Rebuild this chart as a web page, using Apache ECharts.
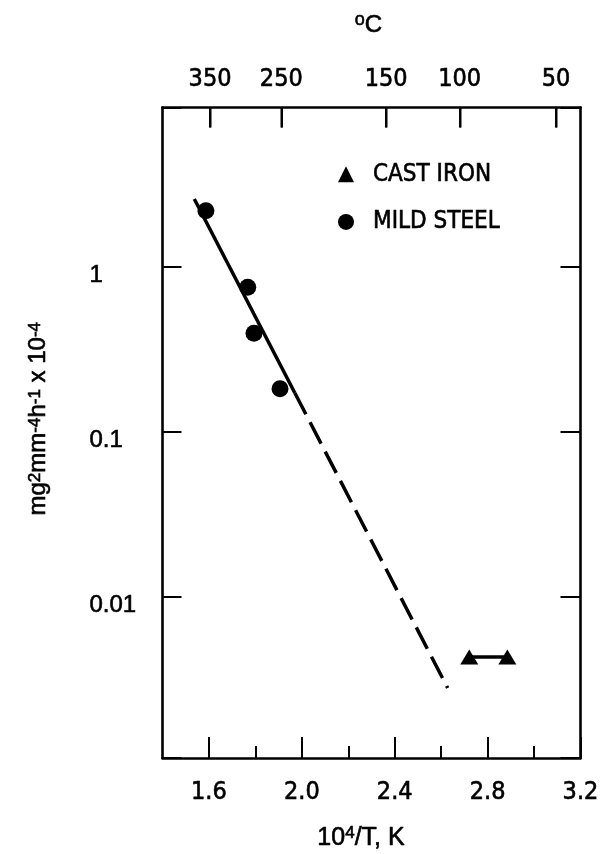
<!DOCTYPE html>
<html>
<head>
<meta charset="utf-8">
<script src="https://cdn.jsdelivr.net/npm/echarts@6/dist/echarts.min.js"></script>
<style>
  html, body { margin: 0; padding: 0; background: #fff; }
  #chart { width: 602px; height: 854px; }
</style>
</head>
<body>
<div id="chart"></div>
<script>
// Reciprocal temperature on the bottom scale
const mildSteelX = [1.587, 1.767, 1.794, 1.906];
// Rate constant, mg^2 mm^-4 h^-1 x 10^-4
const mildSteelY = [2.177, 0.748, 0.394, 0.1822];

const castIronX = [2.721, 2.885];
const castIronY = [0.004335, 0.004335];

// Arrhenius fit through the mild steel data: solid over the measured range, dashed extrapolation
const fitX = [1.537, 1.970, 2.628];
const fitY = [2.562, 0.1716, 0.002813];

// Axis ticks
const xMajorTicks = [1.6, 2.0, 2.4, 2.8, 3.2];
const xMinorTicks = [1.8, 2.2, 2.6, 3.0];
const yTickLabels = ['1', '0.1', '0.01'];
const celsiusTicks = [350, 250, 150, 100, 50];

const X_MIN = 1.4, X_MAX = 3.2;
const Y_MIN = 0.001061, Y_MAX = 9.167;

const NARROW = "'Liberation Sans Narrow', 'DejaVu Sans Condensed', 'Liberation Sans', sans-serif";
const SANS = "'Liberation Sans', Arial, sans-serif";
const INK = '#000';

// top scale: degrees Celsius placed at their reciprocal absolute temperature
const celsiusPos = celsiusTicks.map(c => 1e3 / (c + 273.15));
const celsiusLabel = v => {
  const i = celsiusPos.findIndex(p => Math.abs(p - v) < 1e-6);
  return i >= 0 ? String(celsiusTicks[i]) : '';
};
const pairs = (xs, ys) => xs.map((x, i) => [x, ys[i]]);

const chart = echarts.init(document.getElementById('chart'), null, { renderer: 'canvas' });

const frameLine = { show: true, onZero: false, lineStyle: { color: INK, width: 2.6 } };
const heavy = { textBorderColor: INK, textBorderWidth: 0.6 };
const tickText = Object.assign({ color: INK, fontFamily: NARROW, fontSize: 25 }, heavy);

chart.setOption({
  animation: false,
  backgroundColor: '#fff',
  textStyle: { fontFamily: NARROW, color: INK },
  grid: { left: 162.5, right: 21.5, top: 107.5, bottom: 96, outerBoundsMode: 'none', containLabel: false },
  legend: {
    orient: 'vertical',
    left: 333,
    top: 157,
    itemWidth: 16,
    itemHeight: 16,
    itemGap: 23,
    selectedMode: false,
    textStyle: Object.assign({ fontFamily: NARROW, fontSize: 24, color: INK, lineHeight: 22, padding: [0, 0, 0, 14] }, heavy),
    data: [
      { name: 'CAST IRON', icon: 'triangle' },
      { name: 'MILD STEEL', icon: 'circle' }
    ]
  },
  xAxis: [
    {
      type: 'value', position: 'bottom', min: X_MIN, max: X_MAX,
      axisLine: frameLine,
      splitLine: { show: false },
      axisTick: { inside: true, length: 21, lineStyle: { color: INK, width: 2 }, customValues: xMajorTicks },
      axisLabel: Object.assign({ customValues: xMajorTicks, margin: 22, formatter: v => v.toFixed(1) }, tickText),
      name: '{n|10}{s|4}{n|/T, K}',
      nameLocation: 'middle',
      nameGap: 67,
      nameTextStyle: {
        padding: [0, 21, 0, 0],
        rich: {
          n: Object.assign({ fontFamily: SANS, fontSize: 25, color: INK, lineHeight: 26, verticalAlign: 'bottom' }, heavy),
          s: Object.assign({ fontFamily: SANS, fontSize: 17, color: INK, lineHeight: 16, verticalAlign: 'top' }, heavy)
        }
      }
    },
    {
      // Celsius scale along the top edge
      type: 'value', position: 'top', min: X_MIN, max: X_MAX,
      axisLine: frameLine,
      splitLine: { show: false },
      axisTick: { inside: true, length: 20, lineStyle: { color: INK, width: 2 }, customValues: celsiusPos },
      axisLabel: Object.assign({ customValues: celsiusPos, margin: 16, formatter: celsiusLabel }, tickText),
      name: '{s|o}{c|C}',
      nameLocation: 'middle',
      nameGap: 70,
      nameTextStyle: {
        padding: [0, 6, 0, 0],
        rich: {
          s: Object.assign({ fontFamily: SANS, fontSize: 18, color: INK, lineHeight: 14, verticalAlign: 'top' }, heavy),
          c: Object.assign({ fontFamily: SANS, fontSize: 24, color: INK, lineHeight: 26, verticalAlign: 'bottom' }, heavy)
        }
      }
    },
    {
      // minor ticks on the bottom edge
      type: 'value', position: 'bottom', min: X_MIN, max: X_MAX,
      axisLine: { show: false },
      splitLine: { show: false },
      axisLabel: { show: false },
      axisTick: { inside: true, length: 12, lineStyle: { color: INK, width: 2 }, customValues: xMinorTicks }
    }
  ],
  yAxis: [
    {
      type: 'log', logBase: 10, position: 'left', min: Y_MIN, max: Y_MAX,
      axisLine: frameLine,
      splitLine: { show: false },
      minorTick: { show: false },
      axisTick: { inside: true, length: 19, lineStyle: { color: INK, width: 2 } },
      axisLabel: Object.assign({
        align: 'left', verticalAlign: 'top', lineHeight: 17, margin: 73,
        fontSize: 24, color: INK, fontFamily: SANS,
        formatter: v => {
          const hit = yTickLabels.find(l => Math.abs(Math.log10(v) - Math.log10(+l)) < 1e-6);
          return hit || '';
        }
      }, heavy),
      name: '{n|mg}{s|2}{n|mm}{s|-4}{n|h}{s|-1}{n| x 10}{s|-4}',
      nameLocation: 'middle',
      nameGap: 112,
      nameTextStyle: {
        padding: [0, 0, 0, 28],
        rich: {
          n: Object.assign({ fontFamily: SANS, fontSize: 24, color: INK, lineHeight: 24, verticalAlign: 'bottom' }, heavy),
          s: Object.assign({ fontFamily: SANS, fontSize: 17, color: INK, lineHeight: 17, verticalAlign: 'top' }, heavy)
        }
      }
    },
    {
      type: 'log', logBase: 10, position: 'right', min: Y_MIN, max: Y_MAX,
      axisLine: frameLine,
      splitLine: { show: false },
      axisLabel: { show: false },
      axisTick: { inside: true, length: 20, lineStyle: { color: INK, width: 2 } }
    }
  ],
  series: [
    {
      name: 'fit',
      type: 'line',
      data: pairs(fitX.slice(0, 2), fitY.slice(0, 2)),
      symbol: 'none',
      silent: true,
      lineStyle: { color: INK, width: 3.5, type: 'solid' },
      z: 2
    },
    {
      name: 'fit-extrapolated',
      type: 'line',
      data: pairs(fitX.slice(1), fitY.slice(1)),
      symbol: 'none',
      silent: true,
      lineStyle: { color: INK, width: 3.5, type: [24, 9] },
      z: 2
    },
    {
      name: 'MILD STEEL',
      type: 'scatter',
      data: pairs(mildSteelX, mildSteelY),
      symbol: 'circle',
      symbolSize: 17,
      itemStyle: { color: INK, opacity: 1 },
      z: 3
    },
    {
      name: 'CAST IRON',
      type: 'line',
      data: pairs(castIronX, castIronY),
      symbol: 'triangle',
      symbolSize: [18, 15],
      showAllSymbol: true,
      itemStyle: { color: INK, opacity: 1 },
      lineStyle: { color: INK, width: 3.5 },
      z: 3
    }
  ]
});

// Celsius tick marks hanging from the top edge, placed through the x scale
const topTicks = celsiusPos.map(p => {
  const pt = chart.convertToPixel({ xAxisIndex: 0, yAxisIndex: 0 }, [p, Y_MAX]);
  const x = Math.round(pt[0]) + 0.5;
  return {
    type: 'line',
    silent: true,
    z: 100,
    shape: { x1: x, y1: pt[1], x2: x, y2: pt[1] + 20 },
    style: { stroke: INK, lineWidth: 2 }
  };
});
chart.setOption({ graphic: topTicks });
</script>
</body>
</html>
